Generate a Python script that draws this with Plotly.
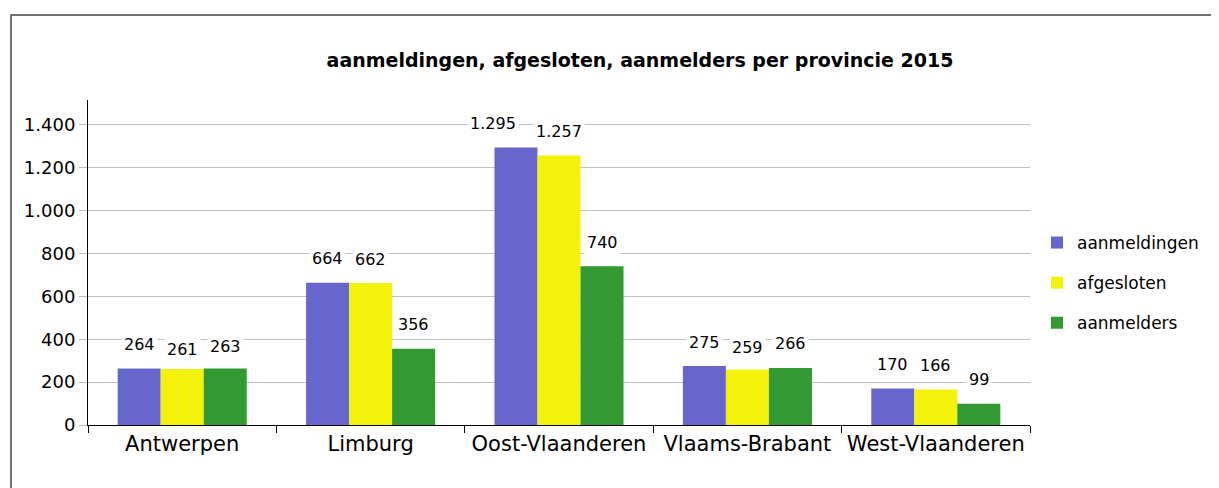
import plotly.graph_objects as go

categories = ["Antwerpen", "Limburg", "Oost-Vlaanderen", "Vlaams-Brabant", "West-Vlaanderen"]
series_names = ["aanmeldingen", "afgesloten", "aanmelders"]
aanmeldingen = [264, 664, 1295, 275, 170]
afgesloten = [261, 662, 1257, 259, 166]
aanmelders = [263, 356, 740, 266, 99]
series_values = [aanmeldingen, afgesloten, aanmelders]
colors = ["#6666CC", "#F2F20A", "#339933"]
y_ticks = [0, 200, 400, 600, 800, 1000, 1200, 1400]

FONT = "DejaVu Sans"
W, H = 1219, 488
OFF = 8  # page body margin offset
# target positions in page pixels
PL, PR, PT, PB = 88, 1030, 100, 425
L = PL - OFF
T = PT - OFF
R = W - (PR - OFF)
B = H - (PB - OFF)

fig = go.Figure()
for i, (name, vals) in enumerate(zip(series_names, series_values)):
    fig.add_trace(go.Bar(
        x=categories, y=vals, name=name,
        marker=dict(color=colors[i], line=dict(width=0)),
        legendgroup=name,
    ))

def fmt(v):
    return f"{v:,}".replace(",", ".")

# small label nudges (series index, category index) -> (dx, dy) in px
label_nudge = {(0, 2): (-23, 0), (1, 0): (0, -4), (1, 3): (0, -2), (2, 0): (0, -2)}

bar_px = 43
for i, vals in enumerate(series_values):
    for j, (c, v) in enumerate(zip(categories, vals)):
        dx, dy = label_nudge.get((i, j), (0, 0))
        fig.add_annotation(
            x=c, y=v, xref="x", yref="y", text=fmt(v), showarrow=False,
            xshift=(i - 1) * bar_px + dx, yshift=24 + dy, yanchor="middle",
            bgcolor="white", font=dict(family=FONT, size=16, color="black"),
            borderpad=2,
        )

pw = PR - PL
ph = PB - PT
def px_to_paper_x(px):
    return (px - PL) / pw
def px_to_paper_y(py):
    return (PB - py) / ph

fig.add_shape(type="rect", xref="paper", yref="paper",
              x0=px_to_paper_x(11), x1=px_to_paper_x(1240),
              y0=px_to_paper_y(510), y1=px_to_paper_y(15),
              line=dict(color="#444444", width=1.5), fillcolor="rgba(0,0,0,0)", layer="below")

fig.update_layout(
    width=W, height=H,
    margin=dict(l=L, r=R, t=T, b=B, autoexpand=False),
    paper_bgcolor="white", plot_bgcolor="white",
    separators=",.",
    barmode="group", bargap=0.315, bargroupgap=0,
    title=dict(text="<b>aanmeldingen, afgesloten, aanmelders per provincie 2015</b>",
               x=(640 - OFF) / W, xref="container", xanchor="center",
               y=1 - (60 - OFF) / H, yref="container", yanchor="middle",
               font=dict(family=FONT, size=19, color="black")),
    legend=dict(x=px_to_paper_x(1037), y=px_to_paper_y(283), xanchor="left", yanchor="middle",
                font=dict(family=FONT, size=17, color="black"),
                tracegroupgap=15, itemwidth=30, bgcolor="rgba(0,0,0,0)"),
    font=dict(family=FONT, color="black"),
)
fig.update_yaxes(range=[0, 1516], tickvals=y_ticks, tickformat=",d",
                 showgrid=True, gridcolor="#BFBFBF", gridwidth=1,
                 showline=True, linecolor="black", linewidth=1,
                 ticks="outside", ticklen=8, tickcolor="#BFBFBF",
                 tickfont=dict(family=FONT, size=18, color="black"),
                 zeroline=False, fixedrange=True, automargin=False)
fig.update_xaxes(showline=True, linecolor="black", linewidth=1,
                 ticks="outside", ticklen=7, tickcolor="black", tickson="boundaries",
                 tickangle=0, automargin=False,
                 tickfont=dict(family=FONT, size=21, color="black"),
                 showgrid=False, fixedrange=True)

fig.write_html("out.html")
